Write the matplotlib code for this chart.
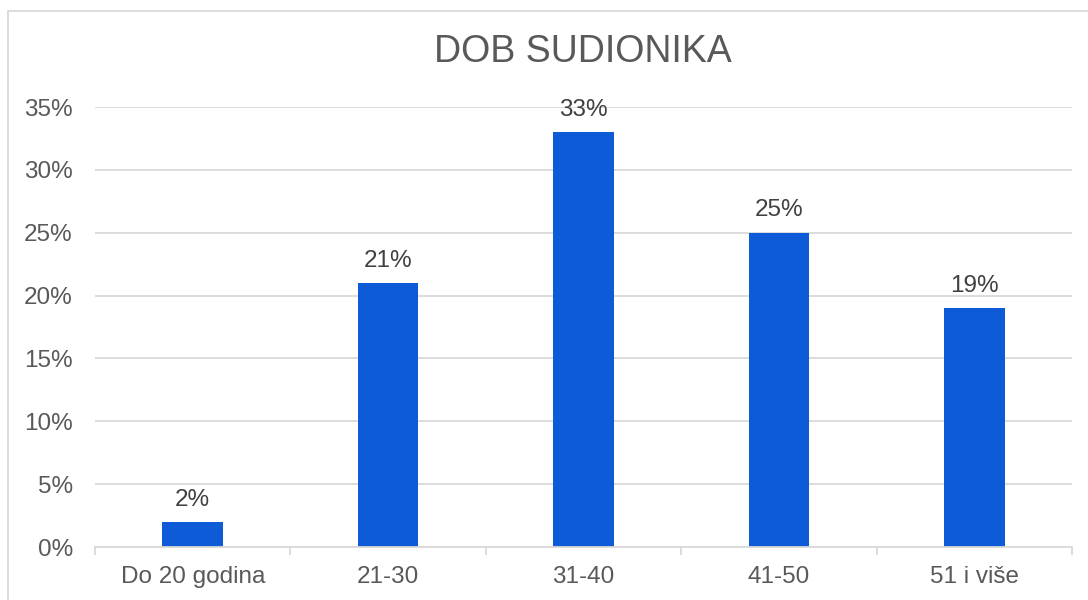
import matplotlib.pyplot as plt
import matplotlib.patches as patches
from matplotlib.ticker import FuncFormatter

plt.rcParams["font.family"] = ["Liberation Sans", "DejaVu Sans"]

categories = ["Do 20 godina", "21-30", "31-40", "41-50", "51 i više"]
values = [0.02, 0.21, 0.33, 0.25, 0.19]
yticks = [0, 0.05, 0.10, 0.15, 0.20, 0.25, 0.30, 0.35]

W, H = 1088, 600
fig = plt.figure(figsize=(W / 100, H / 100), dpi=100)

# outer chart border (clipped on right and bottom like the original)
fig.patches.append(patches.Rectangle((8 / W, -0.1), 1.2, 1 - 11 / H + 0.1, transform=fig.transFigure,
                                     fill=False, edgecolor="#d9d9d9", linewidth=1.3))

ax = fig.add_axes([95 / W, 1 - 547 / H, (1072 - 95) / W, (547 - 107) / H])

grid = "#d9d9d9"
text_col = "#595959"
fs = 17.5

x = range(len(categories))
ax.bar(x, values, width=0.31, color="#0e5bd8", zorder=3)
for xi, v in zip(x, values):
    ax.text(xi, v + 0.009, f"{v * 100:.0f}%", ha="center", va="bottom", fontsize=fs, color="#404040")

ax.set_xlim(-0.5, len(categories) - 0.5)
ax.set_ylim(0, 0.35)
ax.set_yticks(yticks)
ax.yaxis.set_major_formatter(FuncFormatter(lambda v, _: f"{v * 100:.0f}%"))
ax.grid(axis="y", color=grid, linewidth=1.3, zorder=0)

ax.set_xticks(list(x))
ax.set_xticklabels(categories)
ax.set_xticks([i - 0.5 for i in range(len(categories) + 1)], minor=True)
ax.tick_params(axis="x", which="major", length=0, pad=14, labelsize=fs, labelcolor=text_col)
ax.tick_params(axis="x", which="minor", length=6, width=1.3, color=grid)
ax.tick_params(axis="y", length=0, pad=16, labelsize=fs, labelcolor=text_col)

for s in ["top", "right", "left"]:
    ax.spines[s].set_visible(False)
ax.spines["bottom"].set_color(grid)
ax.spines["bottom"].set_linewidth(1.3)
ax.spines["bottom"].set_zorder(4)

fig.text(583 / W, 1 - 52 / H, "DOB SUDIONIKA", ha="center", va="center", fontsize=27, color=text_col)

fig.savefig("out.png", dpi=100)
